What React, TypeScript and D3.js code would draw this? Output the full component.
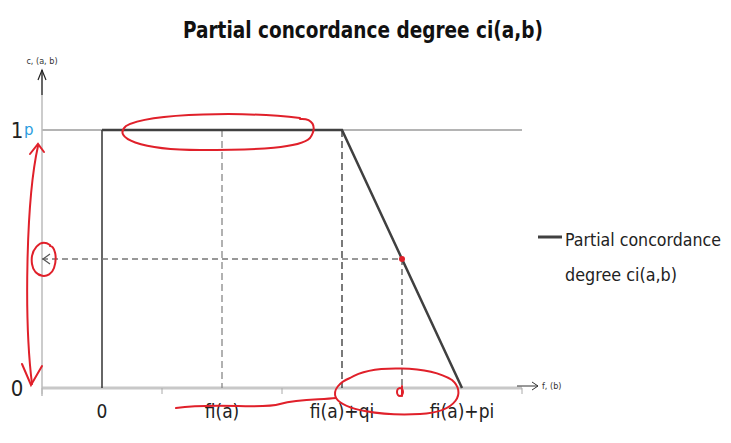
import React from "react";
import * as d3 from "d3";

// chart data
const categories = ["0", "fi(a)", "fi(a)+qi", "fi(a)+pi"];
const concordance = [1, 1, 1, 0];
const yTicks = [0, 1];
const midValue = 0.5; // the example point on the slope
const title = "Partial concordance degree ci(a,b)";
const legendLines = ["Partial concordance", "degree ci(a,b)"];

const W = 731;
const H = 443;
const font = "'DejaVu Sans Condensed', 'Liberation Sans Narrow', 'Liberation Sans', sans-serif";

const App = () => {
  const x = d3.scalePoint<string>().domain(categories).range([42, 522]).padding(0.5);
  const y = d3.scaleLinear().domain([0, 1]).range([388, 130]);
  const step = x.step();

  const pts: [number, number][] = categories.map((c, i) => [x(c)!, y(concordance[i])]);
  const line = d3.line<[number, number]>()(pts);

  // boundaries for category ticks
  const bounds = d3.range(categories.length + 1).map((i) => 42 + i * step);

  const xMid = (x(categories[2])! + x(categories[3])!) / 2;
  const yMid = y(midValue);
  const x0 = 42;
  const yBase = y(0);
  const yTop = y(1);

  return (
    <svg width={W} height={H} style={{ display: "block", position: "absolute", left: 0, top: 0, background: "#fff" }}>
      <text x={363} y={38} textAnchor="middle" fontFamily={font} fontWeight="bold" fontSize={23}
        textLength={360} lengthAdjust="spacingAndGlyphs" fill="#111">
        {title}
      </text>

      {/* gridline at 1 and x axis */}
      <line x1={x0} x2={522} y1={yTop} y2={yTop} stroke="#b4b4b4" strokeWidth={2} />
      <line x1={x0} x2={522} y1={yBase} y2={yBase} stroke="#c8c8c8" strokeWidth={3} />
      {bounds.map((b, i) => (
        <line key={i} x1={b} x2={b} y1={yBase} y2={yBase + 6} stroke="#aaa" strokeWidth={1} />
      ))}
      {/* x axis arrow */}
      <line x1={517} x2={538} y1={yBase - 2} y2={yBase - 2} stroke="#333" strokeWidth={1} />
      <path d={`M532,${yBase - 6} L538,${yBase - 2} L532,${yBase + 2}`} fill="none" stroke="#333" strokeWidth={1} />
      <text x={542} y={yBase + 1} fontFamily={font} fontSize={9} fill="#333">f, (b)</text>

      {/* y axis */}
      <line x1={x0} x2={x0} y1={70} y2={yBase + 8} stroke="#bbb" strokeWidth={1.5} />
      <path d={`M38,80 L42,70 L46,80`} fill="none" stroke="#222" strokeWidth={1.2} />
      <line x1={x0} x2={x0} y1={70} y2={95} stroke="#222" strokeWidth={1.2} />
      <text x={42} y={64} textAnchor="middle" fontFamily={font} fontSize={9} fill="#333">c, (a, b)</text>
      {yTicks.map((t) => (
        <text key={t} x={17} y={y(t) + 8} textAnchor="middle" fontFamily={font} fontSize={22} fill="#222">
          {t}
        </text>
      ))}
      <text x={24} y={yTop + 5} fontFamily="'DejaVu Sans', sans-serif" fontSize={15} fill="#2a9de0">p</text>

      {/* helper lines */}
      <line x1={x(categories[0])} x2={x(categories[0])} y1={yTop} y2={yBase} stroke="#333" strokeWidth={1.5} />
      <line x1={x(categories[1])} x2={x(categories[1])} y1={yTop} y2={yBase} stroke="#888" strokeWidth={1.3} strokeDasharray="7,4" />
      <line x1={x(categories[2])} x2={x(categories[2])} y1={yTop} y2={yBase} stroke="#333" strokeWidth={1.3} strokeDasharray="7,4" />
      <line x1={x0} x2={xMid} y1={yMid} y2={yMid} stroke="#777" strokeWidth={1.5} strokeDasharray="6,4" />
      <line x1={xMid} x2={xMid} y1={yMid} y2={yBase} stroke="#555" strokeWidth={1.3} strokeDasharray="6,4" />
      <path d={`M50,${yMid - 5} L43,${yMid} L50,${yMid + 5}`} fill="none" stroke="#555" strokeWidth={1.2} />

      {/* series */}
      <path d={line!} fill="none" stroke="#404040" strokeWidth={2.5} />
      <circle cx={xMid} cy={yMid} r={3} fill="#e0202a" />

      {/* x labels */}
      {categories.map((c) => (
        <text key={c} x={x(c)} y={418} textAnchor="middle" fontFamily={font} fontSize={19} fill="#222">
          {c}
        </text>
      ))}

      {/* legend */}
      <line x1={538} x2={562} y1={237} y2={237} stroke="#404040" strokeWidth={3} />
      {legendLines.map((t, i) => (
        <text key={t} x={565} y={246 + i * 35} fontFamily={font} fontSize={18}
          textLength={i === 0 ? 156 : 112} lengthAdjust="spacingAndGlyphs" fill="#222">
          {t}
        </text>
      ))}

      {/* red hand annotations */}
      <g fill="none" stroke="#e0202a" strokeWidth={2} strokeLinecap="round">
        <path d="M300,118 C250,112 150,112 126,126 C112,138 140,150 200,150 C260,150 300,148 310,138 C318,126 312,118 300,119" />
        <path d="M38,146 C26,200 24,320 32,384" />
        <path d="M30,154 L38,144 L44,152" />
        <path d="M22,364 L31,385 L42,366" />
        <path d="M50,245 C40,238 30,250 32,264 C34,278 50,280 54,268 C58,256 54,246 50,246" />
        <path d="M350,378 C372,364 430,366 452,380 C466,392 458,412 420,414 C380,416 344,410 336,398 C332,390 340,382 350,378" />
        <path d="M176,408 C220,402 260,410 280,404 C300,398 320,400 336,398" />
        <path d="M402,386 L402,396" />
        <ellipse cx={400} cy={392} rx={3} ry={4} />
      </g>
    </svg>
  );
};

export default App;
